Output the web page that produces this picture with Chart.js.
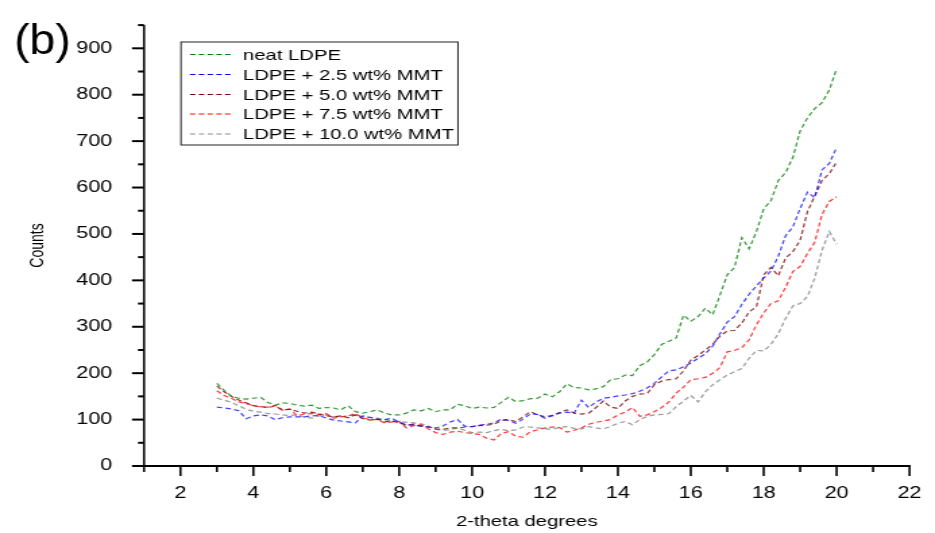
<!DOCTYPE html>
<html><head><meta charset="utf-8">
<script src="https://cdn.jsdelivr.net/npm/chart.js@4"></script>
<style>
html,body{margin:0;padding:0;background:#fff;overflow:hidden}
#wrap{position:absolute;left:0;top:0;width:693px;height:533px;transform:scaleX(1.349206);transform-origin:0 0}
#c{display:block}
</style></head><body>
<div id="wrap"><canvas id="c" width="693" height="533"></canvas></div>
<script>
// ---- data (2-theta in degrees, counts) ----
const theta = [3,3.2,3.4,3.6,3.8,4,4.2,4.4,4.6,4.8,5,5.2,5.4,5.6,5.8,6,6.2,6.4,6.6,6.8,
  7,7.2,7.4,7.6,7.8,8,8.2,8.4,8.6,8.8,9,9.2,9.4,9.6,9.8,10,10.2,10.4,10.6,10.8,
  11,11.2,11.4,11.6,11.8,12,12.2,12.4,12.6,12.8,13,13.2,13.4,13.6,13.8,14,14.2,14.4,14.6,14.8,
  15,15.2,15.4,15.6,15.8,16,16.2,16.4,16.6,16.8,17,17.2,17.4,17.6,17.8,18,18.2,18.4,18.6,18.8,
  19,19.2,19.4,19.6,19.8,20];
const seriesLabels = ["neat LDPE","LDPE + 2.5 wt% MMT","LDPE + 5.0 wt% MMT","LDPE + 7.5 wt% MMT","LDPE + 10.0 wt% MMT"];
const neatLDPE = [178,163,150,146,144, 146,148,137,131,136, 135,131,129,131,124, 126,125,121,130,117,
  114,117,121,114,110, 110,114,121,119,124, 117,121,121,133,130, 124,127,125,126,137,
  148,139,141,145,146, 155,149,160,177,169, 168,164,166,171,186, 188,196,195,216,224,
  240,262,269,276,325, 312,322,340,326,368, 412,428,492,468,505, 554,572,615,632,665,
  722,750,770,783,810, 856];
const mmt25 = [127,125,123,119,102, 108,110,108,100,104, 106,106,106,108,109, 103,99,97,95,93,
  108,105,101,100,103, 94,89,88,86,84, 82,86,95,100,86, 85,88,90,93,101,
  98,92,101,112,111, 103,108,114,116,114, 142,126,138,146,148, 151,153,156,161,168,
  178,192,205,207,214, 222,232,242,258,285, 310,322,348,370,388, 405,420,452,496,515,
  555,590,578,638,652, 686];
const mmt50 = [172,160,150,142,136, 130,128,126,129,121, 122,118,114,116,112, 108,106,108,104,110,
  102,99,101,95,97, 93,88,90,86,84, 80,79,82,82,84, 85,87,88,90,98,
  100,96,106,117,110, 106,109,115,121,114, 112,114,126,140,127, 124,140,150,155,156,
  175,183,186,188,205, 228,238,250,262,280, 291,292,308,332,343, 412,428,410,448,462,
  486,548,582,615,630, 655];
const mmt75 = [162,152,146,138,135, 130,127,127,131,120, 123,108,112,113,111, 113,103,106,108,113,
  104,100,100,93,95, 96,82,87,89,80, 72,68,73,75,72, 70,68,60,56,70,
  74,64,62,74,78, 82,84,83,73,77, 82,90,94,97,100, 110,116,126,107,110,
  117,126,138,157,170, 186,188,191,200,212, 246,249,255,272,304, 330,350,356,385,419,
  430,458,482,542,570, 580];
const mmt100 = [146,142,137,130,122, 118,116,113,112,110, 109,110,105,103,108, 110,107,106,108,110,
  106,104,103,100,97, 96,94,93,91,86, 79,77,78,82,77, 72,73,72,76,79,
  76,78,84,84,82, 80,79,83,85,81, 80,85,82,80,85, 92,96,89,100,107,
  110,111,113,128,140, 152,138,160,175,186, 196,203,210,232,249, 248,262,285,318,345,
  350,365,405,465,505, 478];
const seriesColors = ["#008000","#0000ff","#800000","#ff0000","#8c8c8c"];
const lineColors = ["rgba(0,128,0,0.8)","rgba(0,0,255,0.75)","rgba(128,0,0,0.8)","rgba(255,0,0,0.78)","rgba(128,128,128,0.8)"];
const xMin = 1, xMax = 22, xStep = 1;
const yMin = 0, yMax = 950, yStep = 50;

// horizontal stretch of the reference picture
const SX = 935 / 693;
const FONT = '"Liberation Sans", Arial, sans-serif';

const allSeries = [neatLDPE, mmt25, mmt50, mmt75, mmt100];
const datasets = allSeries.map((vals, k) => ({
  label: seriesLabels[k],
  data: theta.map((t, i) => ({x: t, y: vals[i]})),
  borderColor: lineColors[k],
  legendColor: seriesColors[k],
  borderWidth: 1.2,
  borderDash: [4, 2.5],
  pointRadius: 0,
  fill: false,
  tension: 0
}));

function seg(ctx, x1, y1, x2, y2) { ctx.beginPath(); ctx.moveTo(x1, y1); ctx.lineTo(x2, y2); ctx.stroke(); }

const decorPlugin = {
  id: 'decor',
  afterDraw(chart) {
    const {ctx, chartArea: a, scales: {x, y}} = chart;
    ctx.save();
    ctx.strokeStyle = '#000';
    // y axis
    ctx.lineWidth = 1.6;
    seg(ctx, a.left, y.getPixelForValue(yMax), a.left, a.bottom + 1);
    // x axis
    ctx.lineWidth = 2;
    seg(ctx, a.left, a.bottom, x.getPixelForValue(xMax) + 0.8, a.bottom);
    // y ticks (outward)
    ctx.lineWidth = 2;
    y.ticks.forEach(t => {
      const py = y.getPixelForValue(t.value);
      const len = (t.value % 100 === 0 ? 12 : 6) / SX;
      seg(ctx, a.left - len, py, a.left, py);
    });
    // x ticks (outward)
    ctx.lineWidth = 1.6;
    x.ticks.forEach(t => {
      const px = x.getPixelForValue(t.value);
      const len = t.value % 2 === 0 ? 10 : 6;
      seg(ctx, px, a.bottom, px, a.bottom + len);
    });

    // legend box
    const bx1 = 181 / SX, bx2 = 458 / SX, by1 = 42, by2 = 145;
    ctx.lineWidth = 1;
    ctx.strokeStyle = '#222';
    ctx.strokeRect(bx1, by1, bx2 - bx1, by2 - by1);
    const rows = [54.5, 74.5, 94.5, 114, 134];
    ctx.font = '15px ' + FONT;
    ctx.textBaseline = 'middle';
    ctx.textAlign = 'left';
    chart.data.datasets.forEach((ds, k) => {
      ctx.strokeStyle = ds.legendColor;
      ctx.lineWidth = 1.2;
      ctx.setLineDash([4, 2.5]);
      seg(ctx, 190 / SX, rows[k], 234 / SX, rows[k]);
      ctx.setLineDash([]);
      ctx.fillStyle = '#000';
      ctx.fillText(ds.label, 243 / SX, rows[k] + 1);
    });

    // panel label
    ctx.save();
    ctx.translate(14 / SX, 42);
    ctx.scale(0.82, 1);
    ctx.font = '42px ' + FONT;
    ctx.fillStyle = '#000';
    ctx.textBaseline = 'middle';
    ctx.fillText('(b)', 0, 0);
    ctx.restore();
    ctx.restore();
  }
};

new Chart(document.getElementById('c'), {
  type: 'line',
  data: {datasets},
  plugins: [decorPlugin],
  options: {
    responsive: false,
    animation: false,
    devicePixelRatio: 1,
    layout: {padding: {top: 10, right: 693 - 914 / SX, left: 0, bottom: 0}},
    plugins: {legend: {display: false}, tooltip: {enabled: false}},
    scales: {
      x: {
        type: 'linear', min: xMin, max: xMax,
        grid: {display: false}, border: {display: false},
        ticks: {stepSize: xStep, autoSkip: false, maxRotation: 0, padding: 10,
          color: '#000', font: {family: FONT, size: 16},
          callback: v => (v % 2 === 0 ? String(v) : '')},
        title: {display: true, text: '2-theta degrees', color: '#000',
          font: {family: FONT, size: 15}, padding: {top: 0, bottom: 2}},
        afterFit: s => { s.height = 67; }
      },
      y: {
        type: 'linear', min: yMin, max: yMax,
        grid: {display: false}, border: {display: false},
        ticks: {stepSize: yStep, autoSkip: false, padding: 15.5,
          color: '#000', font: {family: FONT, size: 16},
          callback: v => (v % 100 === 0 ? String(v) : '')},
        title: {display: true, text: 'Counts', color: '#000',
          font: {family: FONT, size: 14}, padding: {top: 20, bottom: 0}},
        afterFit: s => { s.width = 144 / SX; }
      }
    }
  }
});
</script>
</body></html>
